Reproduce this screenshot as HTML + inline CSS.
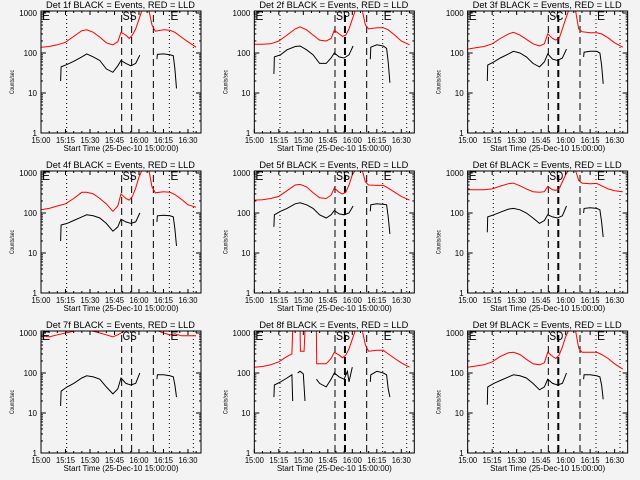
<!DOCTYPE html>
<html><head><meta charset="utf-8">
<style>
html,body{margin:0;padding:0;background:#f3f3f3;}
svg{display:block;font-family:"Liberation Sans",sans-serif;}
</style></head>
<body>
<svg id="chart" width="640" height="480" viewBox="0 0 640 480">
<rect width="640" height="480" fill="#f3f3f3"/>
</svg>
<script>
const detectorNames = ["1f","2f","3f","4f","5f","6f","7f","8f","9f"];
const xTickLabels = ["15:00","15:15","15:30","15:45","16:00","16:15","16:30"];
const xTickMinutes = [0,15,30,45,60,75,90];
const yTickLabels = ["1","10","100","1000"];
const yTickValues = [1,10,100,1000];
const dottedLineMinutes = [15.7,78.6,93.3];
const dashedLineMinutes = [49.4,55.5,68.8];
const spanLabels = ["SS","SP","SC","SS","SS","SD","GS","SS","SD"];
const redTime = [0,5,10,15,20,25,28,32,36,40,44,47,49,52,54,56,58,60,62,63,66,68,70,75,79,82,86,90,95];
const blackTime = [12,12.3,16,20,25,28,32,36,40,44,47,49,52,55,58,60.5,65,71,71.3,75,79,81,82,83];
const red1 = [140,145,160,185,260,360,380,330,250,180,160,190,330,280,230,280,400,700,1200,1200,1200,500,350,380,370,330,250,190,140];
const red2 = [165,165,170,200,280,400,450,380,280,210,200,230,370,300,260,280,400,700,1200,1200,1200,500,400,430,430,380,280,200,160];
const red3 = [125,135,145,170,230,300,330,280,220,170,150,170,300,230,210,230,400,700,1200,1200,1200,400,340,320,320,300,240,180,140];
const red4 = [120,130,150,170,230,330,330,300,230,170,110,150,300,230,210,260,420,800,1200,1200,1200,450,320,340,330,290,220,160,140];
const red5 = [210,215,230,260,360,500,520,450,320,240,230,280,420,330,300,330,500,900,1200,1200,1200,600,500,490,490,420,330,260,210];
const red6 = [380,380,380,400,470,540,560,480,400,340,330,340,460,380,370,400,600,900,1200,1200,1200,650,560,540,550,480,400,360,340];
const red7 = [850,800,900,1000,1100,1200,1200,1100,1000,900,800,900,1000,1200,1200,1200,1200,1200,1200,1200,1200,1200,1200,1000,900,950,850,850,850];
const red9 = [140,150,160,190,260,320,330,290,220,170,160,180,330,260,230,280,450,800,1200,1200,1200,420,330,330,330,290,230,170,125];
const red8Time = [0,5,10,15,20,23,23.5,28,28.2,30.5,31,38,38.2,44,47,49,52,54,56,58,60,62,66,68,70,75,79,82,86,90,95];
const red8 = [140,145,160,190,260,300,1200,1200,350,350,1200,1200,170,170,230,330,280,240,280,400,700,1200,1200,500,350,370,370,300,230,180,140];
const black1 = [20,45,52,62,80,95,80,65,40,33,48,65,55,48,55,88,null,70,92,95,90,85,40,13];
const black2 = [30,80,90,120,145,150,120,90,55,55,75,100,80,75,90,150,null,70,140,160,150,130,60,18];
const black3 = [20,50,60,75,95,110,100,80,55,45,60,95,70,65,75,125,null,80,105,110,110,100,50,17];
const black4 = [20,50,55,65,80,90,85,75,55,35,45,70,60,55,60,100,null,60,85,88,85,80,40,15];
const black5 = [45,90,110,130,170,180,160,130,90,75,90,115,95,90,100,150,null,110,160,170,165,160,80,30];
const black6 = [33,80,90,105,125,130,120,100,75,55,65,90,80,75,85,150,null,100,130,135,130,120,60,25];
const black7 = [15,35,45,55,75,85,80,70,45,30,40,75,55,50,55,100,null,70,90,90,85,80,50,25];
const black9 = [16,45,55,65,80,90,85,75,55,38,45,70,55,50,55,100,null,70,90,90,85,80,50,22];
const black8Time = [12,12.3,16,20,23,23.5,25,26.5,28,30,31,34,38,40,44,47,49,52,55,57,58,60,65,71,71.3,75,79,81,82,83];
const black8 = [25,50,60,75,90,20,null,100,110,95,20,null,70,55,45,70,100,80,70,110,60,140,null,60,90,110,100,90,40,25];

const redSeries = [red1,red2,red3,red4,red5,red6,red7,red8,red9];
const blackSeries = [black1,black2,black3,black4,black5,black6,black7,black8,black9];

const NS = "http://www.w3.org/2000/svg";
const svg = document.getElementById("chart");
function mk(tag, attrs, parent){
  const e = document.createElementNS(NS, tag);
  for (const k in attrs) e.setAttribute(k, attrs[k]);
  (parent||svg).appendChild(e);
  return e;
}
const PW = 160, PH = 122, PXMIN = 1.633, PDEC = 40;

for (let i = 0; i < 9; i++) {
  const c = i % 3, r = Math.floor(i / 3);
  const ox = 213.33 * c, oy = 160 * r;
  const L = ox + 41, T = oy + 11, B = T + PH, R = L + PW;
  const xs = t => L + t * PXMIN;
  const ys = v => B - Math.log10(v) * PDEC;
  const g = mk("g", {});
  
  

  const cp = mk("clipPath", {id: "clip" + i}, g);
  mk("rect", {x: L, y: T, width: PW, height: PH}, cp);

  const title = mk("text", {x: ox + 46, y: oy + 8, "font-size": 9.5, textLength: 149, lengthAdjust: "spacingAndGlyphs", fill: "#000"}, g);
  title.textContent = "Det " + detectorNames[i] + " BLACK = Events, RED = LLD";
  
  

  dottedLineMinutes.forEach(m => {
    const l = mk("line", {x1: xs(m), x2: xs(m), y1: T, y2: B, stroke: "#000", "stroke-width": 1, "stroke-dasharray": "1,3"}, g);
    
    
  });
  dashedLineMinutes.forEach((m, k) => {
    const w = (k === 1 && [1,2,4,5,7,8].includes(i)) ? 2 : 1;
    const l = mk("line", {x1: xs(m), x2: xs(m), y1: T + 4, y2: B, stroke: "#000", "stroke-width": w, "stroke-dasharray": "7,4"}, g);
    
    
  });

  function path(times, vals){
    let d = "", pen = false;
    for (let j = 0; j < vals.length; j++) {
      const v = vals[j];
      if (v == null) { pen = false; continue; }
      d += (pen ? "L" : "M") + xs(times[j]).toFixed(1) + "," + ys(v).toFixed(1);
      pen = true;
    }
    return d;
  }
  const rt = i === 7 ? red8Time : redTime;
  const bt = i === 7 ? black8Time : blackTime;
  const rp = mk("path", {d: path(rt, redSeries[i]), fill: "none", stroke: "#ff0000", "stroke-width": 1, "clip-path": "url(#clip" + i + ")"}, g);
  
  
  const bp = mk("path", {d: path(bt, blackSeries[i]), fill: "none", stroke: "#000", "stroke-width": 1, "clip-path": "url(#clip" + i + ")"}, g);
  
  

  const fr = mk("rect", {x: L, y: T, width: PW, height: PH, fill: "none", stroke: "#000", "stroke-width": 1}, g);
  
  

  for (let m = 0; m <= 95; m += 5) {
    const len = (m % 15 === 0) ? 4 : 2;
    mk("line", {x1: xs(m), x2: xs(m), y1: B, y2: B - len, stroke: "#000"}, g);
    mk("line", {x1: xs(m), x2: xs(m), y1: T, y2: T + len, stroke: "#000"}, g);
  }
  xTickMinutes.forEach((m, k) => {
    const t = mk("text", {x: xs(m), y: B + 10, "font-size": 8, "text-anchor": "middle", textLength: 19, lengthAdjust: "spacingAndGlyphs", fill: "#000"}, g);
    t.textContent = xTickLabels[k];
    
    
  });
  const xt = mk("text", {x: ox + 121, y: B + 18, "font-size": 8, "text-anchor": "middle", textLength: 115, lengthAdjust: "spacingAndGlyphs", fill: "#000"}, g);
  xt.textContent = "Start Time (25-Dec-10 15:00:00)";
  
  

  yTickValues.forEach((v, k) => {
    mk("line", {x1: L, x2: L + 5, y1: ys(v), y2: ys(v), stroke: "#000"}, g);
    mk("line", {x1: R, x2: R - 5, y1: ys(v), y2: ys(v), stroke: "#000"}, g);
    if (v < 1000) for (let s = 2; s <= 9; s++) {
      mk("line", {x1: L, x2: L + 2, y1: ys(v * s), y2: ys(v * s), stroke: "#000"}, g);
      mk("line", {x1: R, x2: R - 2, y1: ys(v * s), y2: ys(v * s), stroke: "#000"}, g);
    }
    const t = mk("text", {x: L - 4, y: ys(v) + 3, "font-size": 8, "text-anchor": "end", fill: "#000"}, g);
    t.textContent = yTickLabels[k];
    
    
  });
  const yt = mk("text", {x: 0, y: 0, "font-size": 6.5, "text-anchor": "middle", textLength: 24, lengthAdjust: "spacingAndGlyphs", fill: "#000", transform: "translate(" + (ox + 14) + "," + (oy + 82) + ") rotate(-90)"}, g);
  yt.textContent = "Counts/sec";
  
  

  const e1 = mk("text", {x: L + 1, y: T + 9, "font-size": 12, fill: "#000"}, g);
  e1.textContent = "E";
  
  
  const e2 = mk("text", {x: xs(78.6) + 1, y: T + 9, "font-size": 12, fill: "#000"}, g);
  e2.textContent = "E";
  
  
  const s = mk("text", {x: xs(49.4) + 1, y: T + 9, "font-size": 12, textLength: 14, lengthAdjust: "spacingAndGlyphs", fill: "#000"}, g);
  s.textContent = spanLabels[i];
  
  
}
</script>
</body></html>
